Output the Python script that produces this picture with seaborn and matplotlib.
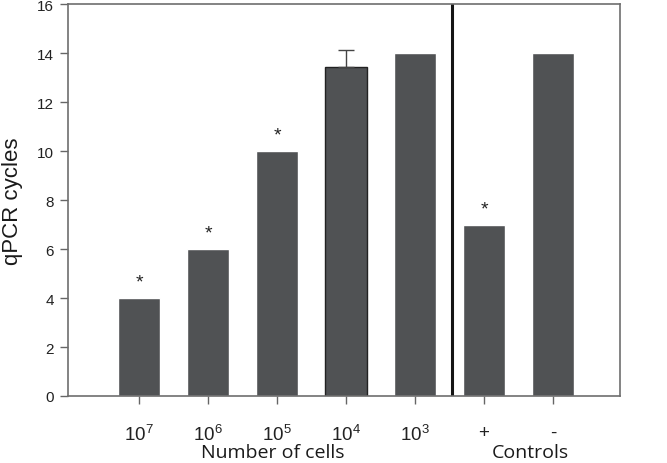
import numpy as np
import pandas as pd
import matplotlib
matplotlib.use("Agg")
import matplotlib.pyplot as plt
import seaborn as sns

# Data
categories = ["$10^7$", "$10^6$", "$10^5$", "$10^4$", "$10^3$", "+", "-"]
cycles = [4.0, 6.0, 10.0, 13.45, 14.0, 7.0, 14.0]
upper_err = [0, 0, 0, 0.68, 0, 0, 0]
significant = [True, True, True, False, False, True, False]

sns.set_theme(style="white")
plt.rcParams['font.family'] = ['Liberation Sans', 'DejaVu Sans']
plt.rcParams['mathtext.fontset'] = 'custom'
plt.rcParams['mathtext.rm'] = 'Liberation Sans'
plt.rcParams['mathtext.it'] = 'Liberation Sans'

df = pd.DataFrame({"group": categories, "cycles": cycles})

fig = plt.figure(figsize=(6.67, 4.64), dpi=100)
ax = fig.add_axes([0.102, 0.1444, 0.8275, 0.8446])

bar_color = "#505254"
sns.barplot(data=df, x="group", y="cycles", order=categories, color=bar_color,
            width=0.61, saturation=1, errorbar=None, ax=ax)

# outline on the 10^4 bar, like the original
ax.patches[3].set_edgecolor("#222222")
ax.patches[3].set_linewidth(1.0)

# one-sided error bar
x = np.arange(len(categories))
err = np.array(upper_err)
mask = err > 0
ax.errorbar(x[mask], np.array(cycles)[mask], yerr=[np.zeros(mask.sum()), err[mask]],
            fmt="none", ecolor="#444444", elinewidth=1.0, capsize=6, capthick=1.0)

# significance stars
for xi, yi, sig in zip(x, cycles, significant):
    if sig:
        ax.text(xi, yi + 0.3, "*", ha="center", va="bottom", fontsize=14, color="#222222")

# divider between samples and controls
ax.axvline(4.54, color="#151515", linewidth=2.2)

ax.set_xlim(-1.03, 6.97)
ax.set_ylim(0, 16)
ax.set_yticks(range(0, 17, 2))
ax.set_xlabel("")
ax.set_ylabel("qPCR cycles", fontsize=16, labelpad=10, color="#1a1a1a")

ax.tick_params(axis="y", direction="out", length=6, width=1, color="#666666",
               labelsize=11, labelcolor="#222222", left=True, pad=4)
ax.tick_params(axis="x", direction="out", length=6, width=1, color="#666666",
               labelsize=13.5, labelcolor="#222222", bottom=True, pad=14)

for side in ["left", "right", "top", "bottom"]:
    ax.spines[side].set_color("#6e6e6e")
    ax.spines[side].set_linewidth(1.2)

# group labels below the tick labels
ax.text(1.94, -0.142, "Number of cells", transform=ax.get_xaxis_transform(),
        ha="center", va="center", fontsize=14, color="#1a1a1a", family="Open Sans")
ax.text(5.67, -0.142, "Controls", transform=ax.get_xaxis_transform(),
        ha="center", va="center", fontsize=14, color="#1a1a1a", family="Open Sans")

fig.savefig("out.png", dpi=100)
